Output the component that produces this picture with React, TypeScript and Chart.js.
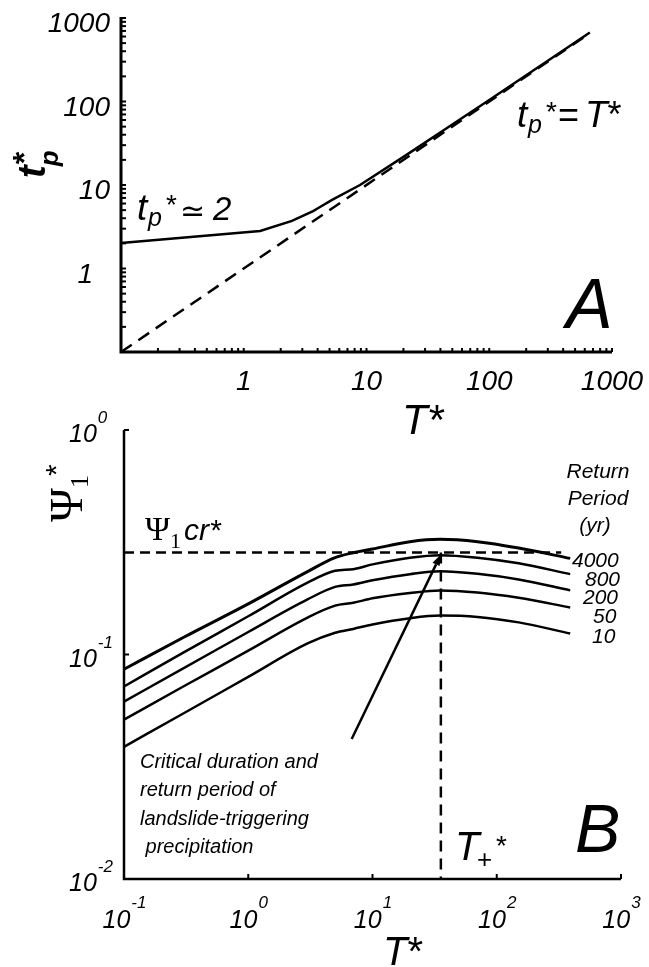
import React, { useEffect, useRef } from 'react';
import { Chart, registerables } from 'chart.js';
Chart.register(...registerables);

const SANS = '"Liberation Sans", Arial, Helvetica, sans-serif';
const SERIF = '"Liberation Serif", "Times New Roman", serif';

// ---------- Panel A data ----------
const aCurveT = [0.1, 1.36, 2.47, 3.67, 4.18, 5.2, 8.85, 20, 50, 100, 300, 660];
const aCurveTp = [2.02, 2.81, 3.71, 4.88, 5.45, 6.6, 10.0, 21.7, 53, 104, 308, 670];
const aDiagT = [0.1, 660];
const aDiagTp = [0.1, 660];
const aXTicks = [1, 10, 100, 1000];
const aXTickLabels = ['1', '10', '100', '1000'];
const aYTicks = [1, 10, 100, 1000];
const aYTickLabels = ['1', '10', '100', '1000'];

// ---------- Panel B data ----------
const bT = [0.1, 0.3, 1, 3, 5, 7, 10, 20, 35, 70, 150, 390];
const psi4000 = [0.086, 0.119, 0.168, 0.234, 0.27, 0.284, 0.295, 0.318, 0.326, 0.318, 0.298, 0.268];
const psi800 = [0.072, 0.102, 0.148, 0.209, 0.236, 0.24, 0.252, 0.27, 0.277, 0.27, 0.255, 0.228];
const psi200 = [0.0617, 0.0867, 0.126, 0.176, 0.2, 0.205, 0.214, 0.228, 0.235, 0.229, 0.216, 0.193];
const psi50 = [0.0513, 0.072, 0.104, 0.146, 0.165, 0.17, 0.178, 0.188, 0.193, 0.189, 0.179, 0.162];
const psi10 = [0.0388, 0.0546, 0.0795, 0.112, 0.125, 0.13, 0.136, 0.145, 0.149, 0.147, 0.139, 0.124];
const bSeries = [psi4000, psi800, psi200, psi50, psi10];
const returnPeriods = ['4000', '800', '200', '50', '10'];
const bXTicks = [0.1, 1, 10, 100, 1000];
const bXExp = ['-1', '0', '1', '2', '3'];
const bYTicks = [1, 0.1, 0.01];
const bYExp = ['0', '-1', '-2'];
const psiCr = 0.285;
const tPlus = 35.5;
const psiCrLineEndT = 330;
const arrowTail = { x: 6.8, y: 0.042 };
const arrowHead = { x: 35.5, y: 0.279 };
const criticalText = ['Critical duration and', 'return period of', 'landslide-triggering', ' precipitation'];
const returnHeader = ['Return', 'Period', '(yr)'];

const B_TOP = 400; // page y where canvas B starts

function txt(ctx: CanvasRenderingContext2D, s: string, x: number, y: number, font: string, align: CanvasTextAlign = 'left') {
  ctx.font = font;
  ctx.textAlign = align;
  ctx.fillText(s, x, y);
  return ctx.measureText(s).width;
}

const panelAPlugin = {
  id: 'panelA',
  afterDraw(chart: any) {
    const { ctx, chartArea: ca } = chart;
    const xs = chart.scales.x, ys = chart.scales.y;
    ctx.save();
    ctx.fillStyle = '#000';
    ctx.strokeStyle = '#000';
    ctx.textBaseline = 'alphabetic';
    // axes
    ctx.lineWidth = 3;
    ctx.beginPath();
    ctx.moveTo(ca.left, ca.top - 1);
    ctx.lineTo(ca.left, ca.bottom);
    ctx.lineTo(ca.right, ca.bottom);
    ctx.stroke();
    // log minor ticks (inward)
    ctx.lineWidth = 2;
    for (let e = -1; e <= 3; e++) {
      for (let k = 1; k <= 9; k++) {
        const v = k * Math.pow(10, e);
        if (v > 1000.001) continue;
        const py = ys.getPixelForValue(v);
        const px = xs.getPixelForValue(v);
        ctx.beginPath(); ctx.moveTo(ca.left, py); ctx.lineTo(ca.left + 5, py); ctx.stroke();
        ctx.beginPath(); ctx.moveTo(px, ca.bottom); ctx.lineTo(px, ca.bottom - 4); ctx.stroke();
      }
    }
    // tick labels
    const tf = `italic 28px ${SANS}`;
    aYTicks.forEach((v, i) => {
      const py = ys.getPixelForValue(v);
      const rx = aYTickLabels[i] === '1' ? 93 : 110;
      txt(ctx, aYTickLabels[i], rx, py + 14, tf, 'right');
    });
    aXTicks.forEach((v, i) => {
      const px = xs.getPixelForValue(v);
      txt(ctx, aXTickLabels[i], px, 390, tf, 'center');
    });
    // x title
    let w = txt(ctx, 'T', 402, 434, `italic 42px ${SANS}`);
    txt(ctx, '*', 402 + w + 1, 434, `42px ${SANS}`);
    // y title t_p* (rotated)
    ctx.save();
    ctx.translate(45, 178);
    ctx.rotate(-Math.PI / 2);
    w = txt(ctx, 't', 0, 0, `italic bold 38px ${SANS}`);
    txt(ctx, 'p', w - 1, 13, `italic bold 26px ${SANS}`);
    txt(ctx, '*', w + 1, -10, `bold 32px ${SANS}`);
    ctx.restore();
    // annotation t_p* ≃ 2
    txt(ctx, 't', 137, 220, `italic 37px ${SANS}`);
    txt(ctx, 'p', 148, 226, `italic 25px ${SANS}`);
    txt(ctx, '*', 166, 214, `28px ${SANS}`);
    txt(ctx, '≃', 180, 221, `30px "DejaVu Sans", ${SANS}`);
    txt(ctx, '2', 213, 220, `italic 33px ${SANS}`);
    // annotation t_p* = T*
    txt(ctx, 't', 517, 127, `italic 37px ${SANS}`);
    txt(ctx, 'p', 528, 133, `italic 25px ${SANS}`);
    txt(ctx, '*', 546, 121, `28px ${SANS}`);
    txt(ctx, '=', 558, 127, `36px ${SANS}`);
    w = txt(ctx, 'T', 585, 127, `italic 37px ${SANS}`);
    txt(ctx, '*', 585 + w, 127, `36px ${SANS}`);
    // panel letter
    txt(ctx, 'A', 566, 328, `italic 70px ${SANS}`);
    ctx.restore();
  },
};

const panelBPlugin = {
  id: 'panelB',
  afterDraw(chart: any) {
    const { ctx, chartArea: ca } = chart;
    const xs = chart.scales.x, ys = chart.scales.y;
    ctx.save();
    ctx.fillStyle = '#000';
    ctx.strokeStyle = '#000';
    ctx.textBaseline = 'alphabetic';
    // axes
    ctx.lineWidth = 2.5;
    ctx.beginPath();
    ctx.moveTo(ca.left, ca.top);
    ctx.lineTo(ca.left, ca.bottom);
    ctx.lineTo(ca.right, ca.bottom);
    ctx.stroke();
    ctx.lineWidth = 2;
    bYTicks.forEach((v) => {
      const py = ys.getPixelForValue(v);
      ctx.beginPath(); ctx.moveTo(ca.left, py); ctx.lineTo(ca.left + 5, py); ctx.stroke();
    });
    bXTicks.forEach((v) => {
      const px = xs.getPixelForValue(v);
      ctx.beginPath(); ctx.moveTo(px, ca.bottom); ctx.lineTo(px, ca.bottom - 5); ctx.stroke();
    });
    const baseF = `italic 25px ${SANS}`;
    const expF = `italic 17px ${SANS}`;
    // x tick labels
    bXTicks.forEach((v, i) => {
      const px = xs.getPixelForValue(v);
      ctx.font = baseF; const w1 = ctx.measureText('10').width;
      ctx.font = expF; const w2 = ctx.measureText(bXExp[i]).width;
      const x0 = px - (w1 + w2) / 2;
      txt(ctx, '10', x0, ca.bottom + 49, baseF);
      txt(ctx, bXExp[i], x0 + w1 + 1, ca.bottom + 29, expF);
    });
    // y tick labels
    bYTicks.forEach((v, i) => {
      const py = ys.getPixelForValue(v);
      const w1 = txt(ctx, '10', 69, py + 12, baseF);
      txt(ctx, bYExp[i], 69 + w1 + 1, py - 7, expF);
    });

    // page coordinates from here on
    ctx.translate(0, -B_TOP);
    // x title
    let w = txt(ctx, 'T', 383, 965, `italic 40px ${SANS}`);
    txt(ctx, '*', 383 + w, 965, `40px ${SANS}`);
    // y title Ψ1* rotated
    ctx.save();
    ctx.translate(82, 522);
    ctx.rotate(-Math.PI / 2);
    w = txt(ctx, 'Ψ', 0, 0, `46px ${SERIF}`);
    txt(ctx, '1', w, 6, `26px ${SERIF}`);
    txt(ctx, '*', w + 12, -16, `30px ${SANS}`);
    ctx.restore();
    // Ψ1cr*
    w = txt(ctx, 'Ψ', 145, 540, `34px ${SERIF}`);
    txt(ctx, '1', 145 + w, 548, `22px ${SERIF}`);
    txt(ctx, 'cr*', 184, 540, `italic 30px ${SANS}`);
    // T+*
    w = txt(ctx, 'T', 455, 860, `italic 40px ${SANS}`);
    txt(ctx, '+', 477, 868, `26px ${SANS}`);
    txt(ctx, '*', 496, 855, `28px ${SANS}`);
    // panel letter
    txt(ctx, 'B', 575, 852, `italic 68px ${SANS}`);
    // Return period header
    const hf = `italic 21px ${SANS}`;
    txt(ctx, returnHeader[0], 598, 478, hf, 'center');
    txt(ctx, returnHeader[1], 598, 505, hf, 'center');
    txt(ctx, returnHeader[2], 595, 532, hf, 'center');
    const rpX = [572, 585, 583, 593, 592];
    const rpY = [567, 586, 604, 623, 643];
    returnPeriods.forEach((s, i) => txt(ctx, s, rpX[i], rpY[i], hf));
    // critical text
    const cf = `italic 20px ${SANS}`;
    const cy = [768, 796, 825, 853];
    criticalText.forEach((s, i) => txt(ctx, s, 140, cy[i], cf));
    ctx.restore();

    // arrow (canvas coords from scales)
    const tx = xs.getPixelForValue(arrowTail.x), ty = ys.getPixelForValue(arrowTail.y);
    const hx = xs.getPixelForValue(arrowHead.x), hy = ys.getPixelForValue(arrowHead.y);
    const ang = Math.atan2(hy - ty, hx - tx);
    const hl = 11, hw = 4;
    const bx = hx - hl * Math.cos(ang), by = hy - hl * Math.sin(ang);
    ctx.save();
    ctx.strokeStyle = '#000';
    ctx.fillStyle = '#000';
    ctx.lineWidth = 2.5;
    ctx.beginPath(); ctx.moveTo(tx, ty); ctx.lineTo(bx, by); ctx.stroke();
    ctx.beginPath();
    ctx.moveTo(hx, hy);
    ctx.lineTo(bx + hw * Math.sin(ang), by - hw * Math.cos(ang));
    ctx.lineTo(bx - hw * Math.sin(ang), by + hw * Math.cos(ang));
    ctx.closePath();
    ctx.fill();
    ctx.restore();
  },
};

export default function App() {
  const refA = useRef<HTMLCanvasElement>(null);
  const refB = useRef<HTMLCanvasElement>(null);

  useEffect(() => {
    const common = {
      responsive: false,
      animation: false as const,
      devicePixelRatio: 1,
      events: [] as any[],
      plugins: { legend: { display: false }, tooltip: { enabled: false } },
    };
    const chartA = new Chart(refA.current as HTMLCanvasElement, {
      type: 'scatter',
      data: {
        datasets: [
          {
            data: aCurveT.map((t, i) => ({ x: t, y: aCurveTp[i] })),
            showLine: true, borderColor: '#000', borderWidth: 2.5, pointRadius: 0, tension: 0, clip: false,
          } as any,
          {
            data: aDiagT.map((t, i) => ({ x: t, y: aDiagTp[i] })),
            showLine: true, borderColor: '#000', borderWidth: 2.5, borderDash: [13, 8], pointRadius: 0, clip: false,
          } as any,
        ],
      },
      options: {
        ...common,
        layout: { padding: { left: 121, top: 18, right: 37, bottom: 98 } },
        scales: {
          x: { type: 'logarithmic', min: 0.1, max: 1000, display: false },
          y: { type: 'logarithmic', min: 0.1, max: 1000, display: false },
        },
      } as any,
      plugins: [panelAPlugin],
    });

    const chartB = new Chart(refB.current as HTMLCanvasElement, {
      type: 'scatter',
      data: {
        datasets: [
          ...bSeries.map((s, k) => ({
            data: bT.map((t, i) => ({ x: t, y: s[i] })),
            showLine: true, borderColor: '#000', borderWidth: k === 0 ? 3 : 2.5, pointRadius: 0,
            cubicInterpolationMode: 'monotone', clip: false,
          })),
          {
            data: [{ x: 0.1, y: psiCr }, { x: psiCrLineEndT, y: psiCr }],
            showLine: true, borderColor: '#000', borderWidth: 2.5, borderDash: [10, 6], pointRadius: 0, clip: false,
          },
          {
            data: [{ x: tPlus, y: psiCr }, { x: tPlus, y: 0.01 }],
            showLine: true, borderColor: '#000', borderWidth: 2.5, borderDash: [11, 7], pointRadius: 0, clip: false,
          },
        ] as any,
      },
      options: {
        ...common,
        layout: { padding: { left: 124, top: 430 - B_TOP, right: 28, bottom: 88 } },
        scales: {
          x: { type: 'logarithmic', min: 0.1, max: 1000, display: false },
          y: { type: 'logarithmic', min: 0.01, max: 1, display: false },
        },
      } as any,
      plugins: [panelBPlugin],
    });

    return () => {
      chartA.destroy();
      chartB.destroy();
    };
  }, []);

  return (
    <div style={{ position: 'absolute', left: 0, top: 0, width: 649, height: 967, background: '#fff' }}>
      <canvas ref={refA} width={649} height={450} style={{ position: 'absolute', left: 0, top: 0, display: 'block' }} />
      <canvas ref={refB} width={649} height={967 - B_TOP} style={{ position: 'absolute', left: 0, top: B_TOP, display: 'block' }} />
    </div>
  );
}
